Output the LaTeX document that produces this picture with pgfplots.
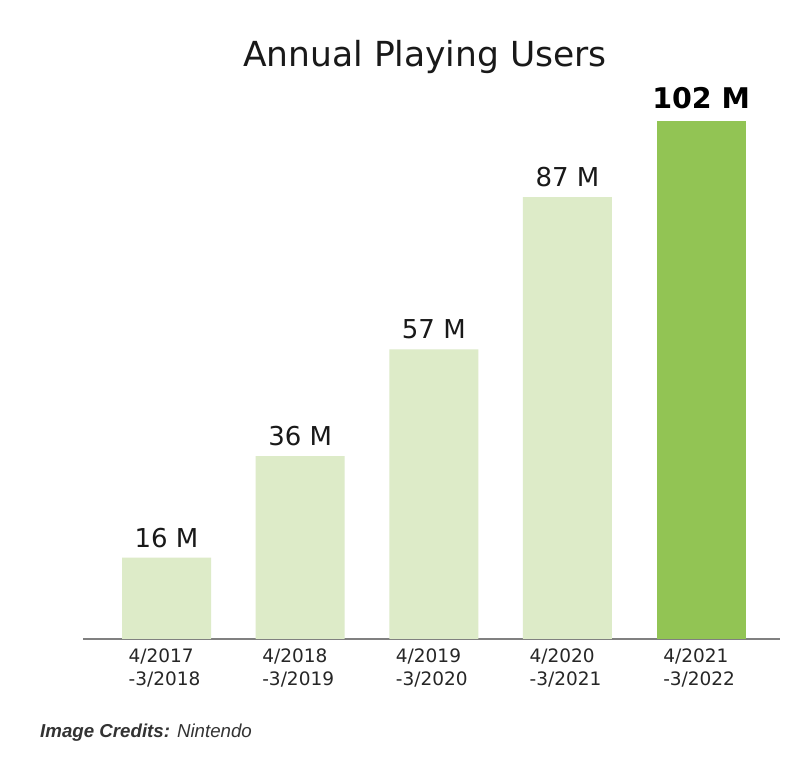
\documentclass[border=0pt]{standalone}
\usepackage{pgfplots}
\pgfplotsset{compat=1.18}
\usepackage{fontspec}
\setmainfont{DejaVu Sans}
\newfontfamily\arialfont{Liberation Sans}
\definecolor{barlight}{RGB}{221,235,200}
\definecolor{bardark}{RGB}{146,196,84}
\definecolor{axisgray}{RGB}{128,128,128}
\definecolor{credgray}{RGB}{51,51,51}

\begin{document}
\begin{tikzpicture}[x=1pt,y=1pt]
  \fill[white] (0,0) rectangle (809,759);
  \useasboundingbox (0,0) rectangle (809,759);

  \begin{axis}[
    at={(83pt,120pt)}, anchor=south west,
    scale only axis,
    width=697pt, height=558.8pt,
    xmin=-0.625, xmax=4.59,
    ymin=0, ymax=110,
    axis x line=bottom,
    axis y line=none,
    axis line style={-, axisgray, line width=1.6pt},
    xtick={0,1,2,3,4},
    xticklabels={{4/2017\\-3/2018},{4/2018\\-3/2019},{4/2019\\-3/2020},{4/2020\\-3/2021},{4/2021\\-3/2022}},
    major tick length=0pt,
    xticklabel style={align=left, font=\fontsize{18.5}{23}\selectfont, text=black!85, inner sep=0pt, yshift=-10pt, xshift=-2pt},
    /pgf/number format/assume math mode=true,
    ybar, bar width=89pt, bar shift=0pt,
    clip=false,
  ]
    \addplot[draw=none, fill=barlight,
      nodes near coords={\pgfmathprintnumber{\pgfplotspointmeta} M},
      every node near coord/.append style={font=\fontsize{26}{30}\selectfont, text=black!90, anchor=south, inner sep=0pt, yshift=10pt}]
      coordinates {(0,16) (1,36) (2,57) (3,87)};
    \addplot[draw=none, fill=bardark,
      nodes near coords={\pgfmathprintnumber{\pgfplotspointmeta} M},
      every node near coord/.append style={font=\bfseries\fontsize{28.5}{32}\selectfont, text=black, anchor=south, inner sep=0pt, yshift=12pt}]
      coordinates {(4,102)};
  \end{axis}

  \node[anchor=base, inner sep=0pt, font=\fontsize{34.5}{40}\selectfont, text=black!90] at (425,692) {Annual Playing Users};
  \node[anchor=base west, inner sep=0pt, font=\arialfont\itshape\fontsize{18.7}{22}\selectfont, text=credgray] at (40,21) {\textbf{Image Credits:} Nintendo};
\end{tikzpicture}
\end{document}
